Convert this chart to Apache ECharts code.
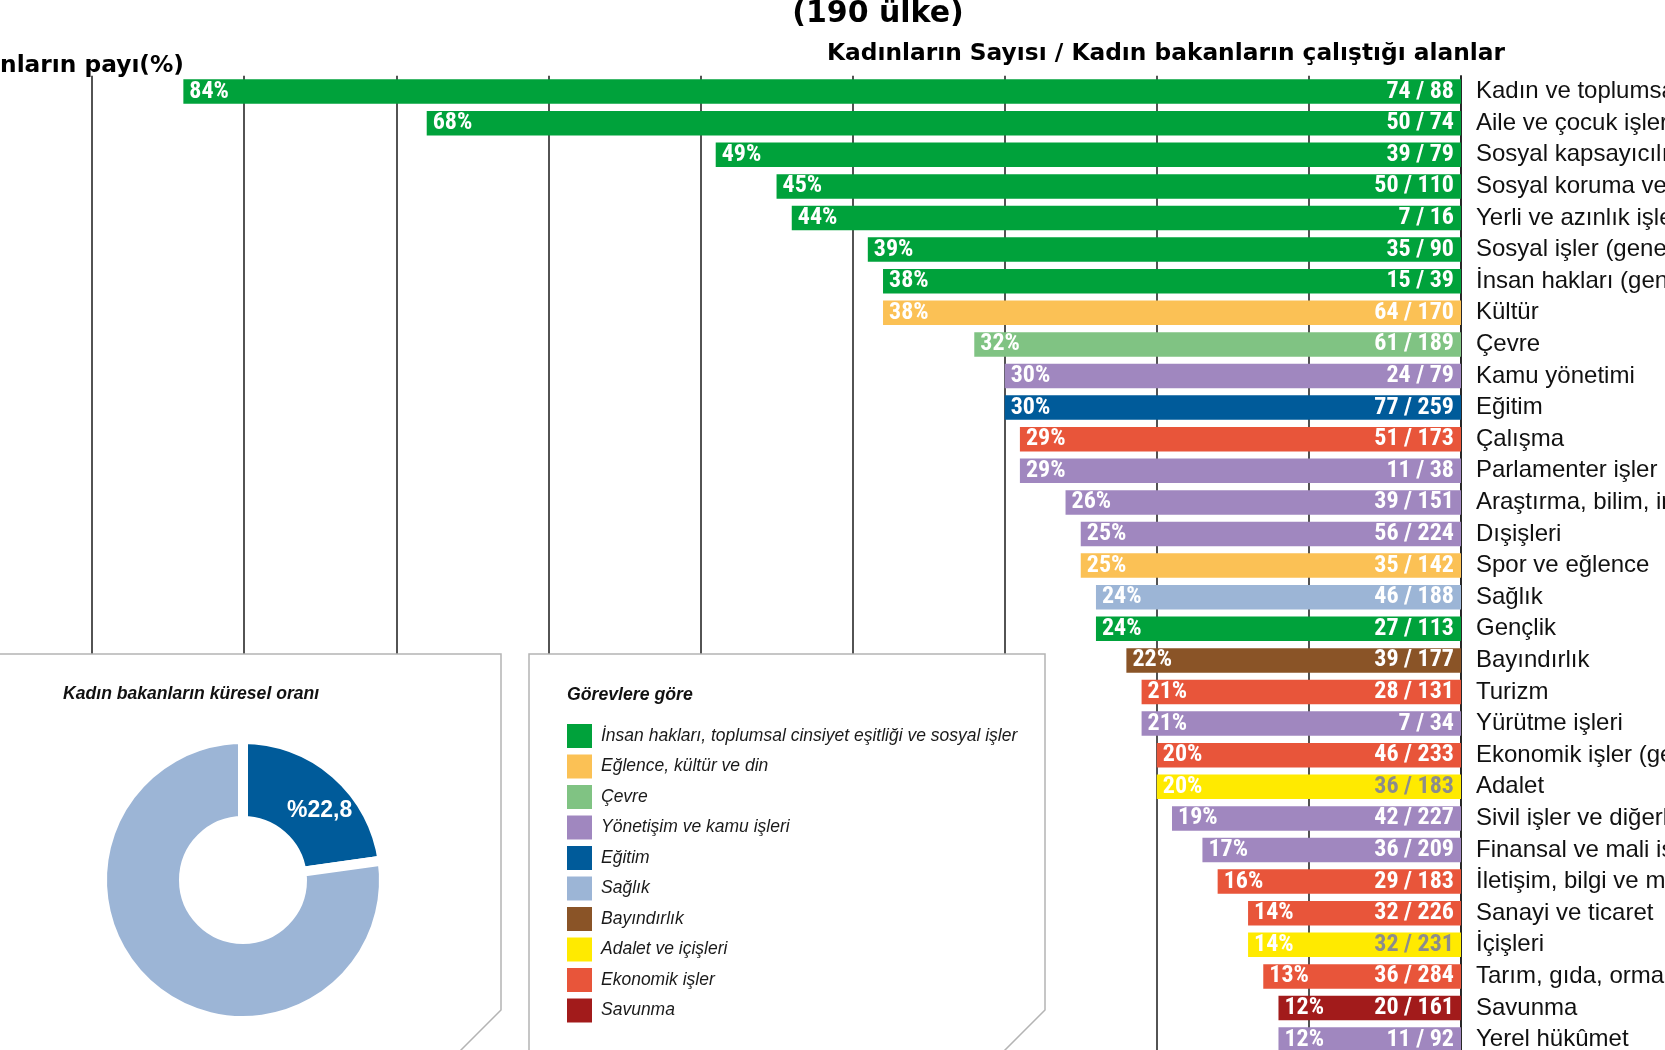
<!DOCTYPE html>
<html><head><meta charset="utf-8">
<script src="https://cdn.jsdelivr.net/npm/echarts@6/dist/echarts.min.js"></script>
<style>html,body{margin:0;padding:0;background:#fff}#c{width:1665px;height:1050px}</style>
</head><body><div id="c"></div><script>
// ---- data ----
const categories = [
  'Kadın ve toplumsal cinsiyet eşitliği', 'Aile ve çocuk işleri', 'Sosyal kapsayıcılık/kalkınma',
  'Sosyal koruma ve sosyal güvenlik', 'Yerli ve azınlık işleri', 'Sosyal işler (genel)',
  'İnsan hakları (genel)', 'Kültür', 'Çevre', 'Kamu yönetimi', 'Eğitim', 'Çalışma',
  'Parlamenter işler', 'Araştırma, bilim, inovasyon', 'Dışişleri', 'Spor ve eğlence', 'Sağlık',
  'Gençlik', 'Bayındırlık', 'Turizm', 'Yürütme işleri', 'Ekonomik işler (genel)', 'Adalet',
  'Sivil işler ve diğerleri', 'Finansal ve mali işler', 'İletişim, bilgi ve medya',
  'Sanayi ve ticaret', 'İçişleri', 'Tarım, gıda, ormancılık ve balıkçılık', 'Savunma', 'Yerel hükûmet'
];
const pctShare = [84, 68, 49, 45, 44, 39, 38, 38, 32, 30, 30, 29, 29, 26, 25, 25, 24, 24, 22, 21, 21, 20, 20, 19, 17, 16, 14, 14, 13, 12, 12];
const womenCount = [74, 50, 39, 50, 7, 35, 15, 64, 61, 24, 77, 51, 11, 39, 56, 35, 46, 27, 39, 28, 7, 46, 36, 42, 36, 29, 32, 32, 36, 20, 11];
const totalCount = [88, 74, 79, 110, 16, 90, 39, 170, 189, 79, 259, 173, 38, 151, 224, 142, 188, 113, 177, 131, 34, 233, 183, 227, 209, 183, 226, 231, 284, 161, 92];
const groupOfCategory = [0, 0, 0, 0, 0, 0, 0, 1, 2, 3, 4, 8, 3, 3, 3, 1, 5, 0, 6, 8, 3, 8, 7, 3, 3, 8, 8, 7, 8, 9, 3];
const groupNames = [
  'İnsan hakları, toplumsal cinsiyet eşitliği ve sosyal işler', 'Eğlence, kültür ve din', 'Çevre',
  'Yönetişim ve kamu işleri', 'Eğitim', 'Sağlık', 'Bayındırlık', 'Adalet ve içişleri', 'Ekonomik işler', 'Savunma'
];
const groupColors = ['#00a23b', '#fbc155', '#80c383', '#a087bf', '#005b9a', '#9cb5d6', '#8a5427', '#ffea00', '#e8553a', '#a21b1b'];
const donutNames = ['Kadın bakanlar', 'Erkek bakanlar'];
const donutValues = [22.8, 77.2];
const donutLabel = '%22,8';

// ---- styles ----
const NARROW = '"Roboto Condensed", "Open Sans Condensed", "Liberation Sans", sans-serif';
const SANS = '"Liberation Sans", Arial, sans-serif';
const HEAVY = '"DejaVu Sans", sans-serif';

const chart = echarts.init(document.getElementById('c'), null, {renderer: 'canvas'});

const groupSeries = groupNames.map((g, gi) => ({
  type: 'bar', name: g, stack: 'share', barWidth: 24.5, barGap: '-100%',
  itemStyle: {color: groupColors[gi]},
  data: pctShare.map((v, i) => groupOfCategory[i] === gi ? v : '-'),
  label: {
    show: true, position: 'insideLeft', distance: 6, color: '#fff',
    fontFamily: NARROW, fontWeight: 'bold', fontSize: 24, textBorderWidth: 0,
    formatter: p => pctShare[p.dataIndex] + '%'
  },
  emphasis: {disabled: true}, silent: true, z: 2
}));

const countSeries = {
  type: 'bar', name: 'sayı', barWidth: 24.5, barGap: '-100%',
  itemStyle: {color: 'rgba(0,0,0,0)'},
  data: pctShare.map((v, i) => ({
    value: v,
    label: {color: groupOfCategory[i] === 7 ? '#8c8c8c' : '#ffffff'}
  })),
  label: {
    show: true, position: 'insideRight', distance: 7,
    fontFamily: NARROW, fontWeight: 'bold', fontSize: 24, textBorderWidth: 0,
    formatter: p => womenCount[p.dataIndex] + ' / ' + totalCount[p.dataIndex]
  },
  emphasis: {disabled: true}, silent: true, z: 3
};

const donut = {
  type: 'pie', name: 'Küresel oran', center: [243, 880], radius: [59, 141],
  startAngle: 90, clockwise: true, avoidLabelOverlap: false, silent: true,
  emphasis: {disabled: true},
  itemStyle: {borderColor: '#ffffff', borderWidth: 10},
  labelLine: {show: false},
  data: donutValues.map((v, i) => ({
    value: v, name: donutNames[i],
    itemStyle: {color: i === 0 ? '#005b9a' : '#9cb5d6'},
    label: i === 0 ? {
      show: true, position: 'inside', formatter: donutLabel, color: '#fff',
      fontFamily: SANS, fontWeight: 'bold', fontSize: 23, textBorderWidth: 0, offset: [9, 8]
    } : {show: false}
  })),
  z: 3
};

const option = {
  backgroundColor: '#ffffff',
  animation: false,
  grid: {left: -60, right: 204, top: 75.8, bottom: -5.4, containLabel: false, outerBoundsMode: 'none'},
  xAxis: {
    type: 'value', inverse: true, min: 0, max: 100, interval: 10,
    axisLabel: {show: false}, axisLine: {show: false}, axisTick: {show: false},
    splitLine: {show: true, lineStyle: {color: '#1a1a1a', width: 1.5}}
  },
  yAxis: {
    type: 'category', inverse: true, position: 'right', data: categories,
    axisTick: {show: false},
    axisLine: {show: true, lineStyle: {color: '#1a1a1a', width: 1.5}},
    axisLabel: {interval: 0, margin: 15, color: '#111', fontFamily: SANS, fontSize: 24, align: 'left', padding: [4, 0, 0, 0]}
  },
  legend: {
    data: groupNames, orient: 'vertical', left: 567, top: 724, padding: 0,
    itemWidth: 25, itemHeight: 24, itemGap: 6.5, icon: 'rect', selectedMode: false,
    textStyle: {fontFamily: SANS, fontStyle: 'italic', fontSize: 17.5, color: '#1a1a1a', padding: [0, 0, 0, 4]}
  },
  graphic: [
    {type: 'polygon', z: 1, silent: true,
     shape: {points: [[-10, 654], [501, 654], [501, 1010], [440, 1071], [-10, 1071]]},
     style: {fill: '#fff', stroke: '#b4b4b4', lineWidth: 1.5}},
    {type: 'polygon', z: 1, silent: true,
     shape: {points: [[529, 1071], [529, 654], [1045, 654], [1045, 1010], [984, 1071]]},
     style: {fill: '#fff', stroke: '#b4b4b4', lineWidth: 1.5}},
    {type: 'text', z: 5, x: 878, y: 14, silent: true,
     style: {text: '(190 ülke)', fill: '#000', font: 'bold 30px ' + HEAVY, align: 'center', verticalAlign: 'middle'}},
    {type: 'text', z: 5, x: 1166, y: 54, silent: true,
     style: {text: 'Kadınların Sayısı / Kadın bakanların çalıştığı alanlar', fill: '#000', font: 'bold 23.3px ' + HEAVY, align: 'center', verticalAlign: 'middle'}},
    {type: 'text', z: 5, x: 184, y: 66, silent: true,
     style: {text: 'Kadın bakanların payı(%)', fill: '#000', font: 'bold 23.3px ' + HEAVY, align: 'right', verticalAlign: 'middle'}},
    {type: 'text', z: 5, x: 63, y: 694, silent: true,
     style: {text: 'Kadın bakanların küresel oranı', fill: '#111', font: 'italic bold 17.6px ' + SANS, align: 'left', verticalAlign: 'middle'}},
    {type: 'text', z: 5, x: 567, y: 695, silent: true,
     style: {text: 'Görevlere göre', fill: '#111', font: 'italic bold 17.7px ' + SANS, align: 'left', verticalAlign: 'middle'}}
  ],
  series: [...groupSeries, countSeries, donut]
};
chart.setOption(option);
</script></body></html>
